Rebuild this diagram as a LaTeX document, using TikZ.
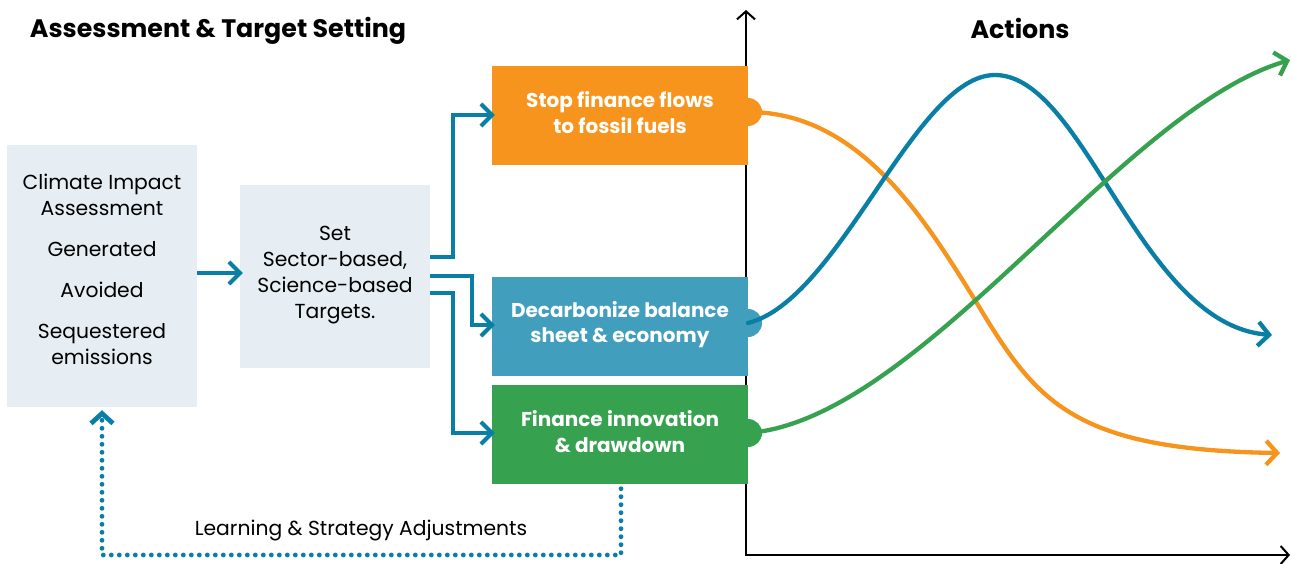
\documentclass[tikz,border=0pt]{standalone}
\usepackage{fontspec}
\setmainfont{Poppins}
\usetikzlibrary{arrows.meta}
\definecolor{lbox}{HTML}{E6EEF3}
\definecolor{oran}{HTML}{F7941D}
\definecolor{bbox}{HTML}{419EBD}
\definecolor{gbox}{HTML}{36A250}
\definecolor{teal}{HTML}{0A7FA6}
\tikzset{
  lightbox/.style={fill=lbox, inner sep=0pt},
  lighttext/.style={inner sep=0pt, align=center, text=black, font=\fontsize{20.3}{26}\selectfont},
  actbox/.style={inner sep=0pt, minimum width=256pt, minimum height=99pt},
  acttext/.style={inner sep=0pt, align=center, text=white, font=\fontsize{20}{25.5}\selectfont\bfseries},
  conn/.style={draw=teal, line width=4pt, -{Straight Barb[length=11pt,width=22pt]}, shorten >=-3pt},
  curve/.style={line width=4.3pt, line cap=round, -{Straight Barb[length=11pt,width=24pt]}},
  axis/.style={draw=black, line width=2pt, -{Straight Barb[length=8pt,width=18pt]}},
  dotline/.style={draw=teal, line width=4.8pt, line cap=round, dash pattern=on 0pt off 8pt, -{Straight Barb[length=10pt,width=22pt]}},
  title/.style={font=\fontsize{25.3}{30}\selectfont\bfseries, inner sep=0pt}
}
\begin{document}
\begin{tikzpicture}[x=1pt,y=-1pt]
\useasboundingbox (0,0) rectangle (1292,563);
\fill[white] (0,0) rectangle (1292,563);

% titles
\node[title] (t1) at (218,31) {Assessment \& Target Setting};
\node[title] (t2) at (1020,28) {Actions};

% axes
\coordinate (o) at (746,555);
\coordinate (ytop) at (746,10);
\coordinate (xend) at (1290,555);
\draw[axis] (o) -- (ytop);
\draw[axis] ([xshift=-1pt]o) -- (xend);

% boxes
\node[lightbox, minimum width=190pt, minimum height=262pt] (lb) at (102,276) {};
\node[lighttext] (lbt) at (102,269.5)
  {Climate Impact\\Assessment\\[15pt]Generated\\[15pt]Avoided\\[15pt]Sequestered\\emissions};
\node[lightbox, minimum width=190pt, minimum height=183pt] (mb) at (335,276.5) {};
\node[lighttext] (mbt) at (335,275.5) {Set\\Sector-based,\\Science-based\\Targets.};

\node[actbox, fill=oran] (sf) at (620,115.5) {};
\node[actbox, fill=bbox] (dc) at (620,326) {};
\node[actbox, fill=gbox] (fi) at (620,434) {};
\node[acttext] (sft) at (620,112.5) {Stop finance flows\\to fossil fuels};
\node[acttext] (dct) at (620,324.5) {Decarbonize balance\\sheet \& economy};
\node[acttext] (fit) at (620,431.5) {Finance innovation\\\& drawdown};

% blobs
\fill[oran] (748,112) circle[radius=14pt];
\fill[bbox] (748,323) circle[radius=14pt];
\fill[gbox] (748,433) circle[radius=14pt];

% connectors
\coordinate (y0) at (0,273);
\draw[conn] (lb.east |- y0) -- (mb.west |- y0);
\coordinate (y1) at (0,257);
\coordinate (k1) at (453,115);
\draw[conn] (mb.east |- y1) -| (k1) -- (sf.west |- k1);
\coordinate (y2) at (0,276);
\coordinate (k2) at (472,325);
\draw[conn] (mb.east |- y2) -| (k2) -- (dc.west |- k2);
\coordinate (y3) at (0,293);
\coordinate (k3) at (453,433);
\draw[conn] (mb.east |- y3) -| (k3) -- (fi.west |- k3);

% feedback
\coordinate (fb1) at (621,555);
\coordinate (fb2) at (102,555);
\draw[dotline] ([yshift=-5pt]fi.south -| fb1) -- (fb1) -- (fb2) -- ([yshift=-3pt]lb.south -| fb2);
\node[font=\fontsize{20.3}{24}\selectfont, inner sep=0pt] (lab) at (361,530.5) {Learning \& Strategy Adjustments};

% curves
\coordinate (oe) at (1280,453);
\coordinate (be) at (1272,335);
\coordinate (ge) at (1290,60);
\draw[curve, draw=oran] (748,112) .. controls (860,112) and (925,220) .. (975,300)
   .. controls (1035,400) and (1070,450) .. (oe);
\draw[curve, draw=teal] (748,323) .. controls (840,300) and (915,75) .. (995,75)
   .. controls (1085,75) and (1140,325) .. (be);
\draw[curve, draw=gbox] (748,433) .. controls (920,420) and (1120,110) .. (ge);
\end{tikzpicture}
\end{document}
